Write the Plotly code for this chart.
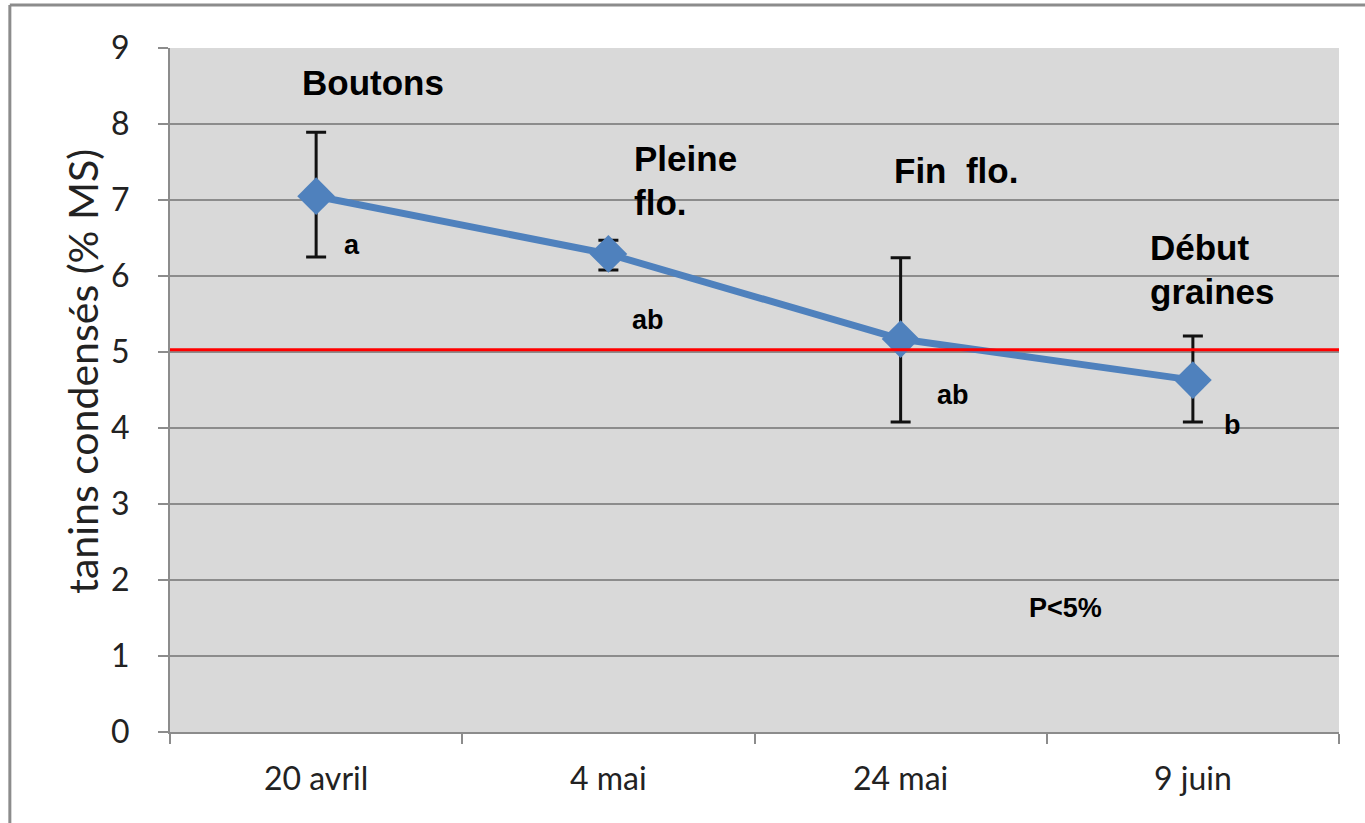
import plotly.graph_objects as go

categories = ["20 avril", "4 mai", "24 mai", "9 juin"]
values = [7.05, 6.29, 5.17, 4.63]
err_plus = [0.84, 0.18, 1.07, 0.58]
err_minus = [0.80, 0.21, 1.09, 0.55]
threshold = 5.03
y_title = "tanins condensés (% MS)"
stage_labels = ["Boutons", "Pleine<br>flo.", "Fin  flo.", "Début<br>graines"]
letters = ["a", "ab", "ab", "b"]
p_label = "P<5%"

fig = go.Figure()
fig.add_trace(go.Scatter(
    x=categories, y=values, mode="lines+markers",
    line=dict(color="#4F81BD", width=7),
    marker=dict(symbol="diamond", size=29, color="#4F81BD"),
    error_y=dict(type="data", symmetric=False, array=err_plus, arrayminus=err_minus,
                 color="#111111", thickness=3, width=10),
    showlegend=False,
))

fig.add_shape(type="line", xref="paper", yref="y", x0=0, x1=1, y0=threshold, y1=threshold,
              line=dict(color="#FF0000", width=3))

# outer frame
fig.add_shape(type="line", xref="paper", yref="paper", x0=-0.137, x1=1.05, y0=1.0629, y1=1.0629,
              line=dict(color="#8C8C8C", width=3))
fig.add_shape(type="line", xref="paper", yref="paper", x0=-0.137, x1=-0.137, y0=-0.2, y1=1.0629,
              line=dict(color="#8C8C8C", width=3))

# y-axis title
fig.add_annotation(x=-0.0745, y=0.528, xref="paper", yref="paper", text=y_title, textangle=-90,
                   showarrow=False, xanchor="center", yanchor="middle",
                   font=dict(family="Lato, Open Sans, sans-serif", size=41, color="#222222"))

# stage labels (position of first line, left or centred)
stage_pos = [(0.195, 8.55, "center"), (1.08, 7.55, "left"), (2.188, 7.39, "center"), (2.846, 6.37, "left")]
line_gap = 0.58
for lab, (xx, yy, anc) in zip(stage_labels, stage_pos):
    for k, part in enumerate(lab.split("<br>")):
        fig.add_annotation(x=xx, y=yy - k * line_gap, xref="x", yref="y", text=f"<b>{part}</b>",
                           showarrow=False, xanchor=anc, yanchor="middle",
                           font=dict(family="Liberation Sans, Arial", size=35, color="black"))

letter_pos = [(0.123, 6.41), (1.137, 5.42), (2.178, 4.43), (3.134, 4.04)]
for lab, (xx, yy) in zip(letters, letter_pos):
    fig.add_annotation(x=xx, y=yy, xref="x", yref="y", text=f"<b>{lab}</b>",
                       showarrow=False, xanchor="center", yanchor="middle",
                       font=dict(family="Liberation Sans, Arial", size=27, color="black"))

fig.add_annotation(x=2.565, y=1.63, xref="x", yref="y", text=f"<b>{p_label}</b>", showarrow=False,
                   yanchor="middle",
                   font=dict(family="Liberation Sans, Arial", size=27, color="black"))

fig.update_layout(
    width=1365, height=823,
    margin=dict(l=170, r=26, t=48, b=91),
    paper_bgcolor="white", plot_bgcolor="#D9D9D9",
    font=dict(family="Lato, Open Sans, sans-serif", size=33, color="#222222"),
)
fig.update_xaxes(type="category", tickson="boundaries", ticks="outside", ticklen=10,
                 tickcolor="#8C8C8C", tickwidth=2, showgrid=False, showline=True,
                 linecolor="#8C8C8C", linewidth=2, range=[-0.5, 3.5],
                 tickfont=dict(size=32), ticklabelstandoff=18)
fig.update_yaxes(range=[0, 9], dtick=1, ticks="outside", ticklen=10, tickcolor="#8C8C8C",
                 tickwidth=2, showgrid=True, gridcolor="#8C8C8C", gridwidth=2,
                 showline=True, linecolor="#8C8C8C", linewidth=2, zeroline=False,
                 tickfont=dict(size=32), ticklabelstandoff=22)

fig.write_html("out.html", config={"displayModeBar": False},
               post_script="document.body.style.margin='0px';")
